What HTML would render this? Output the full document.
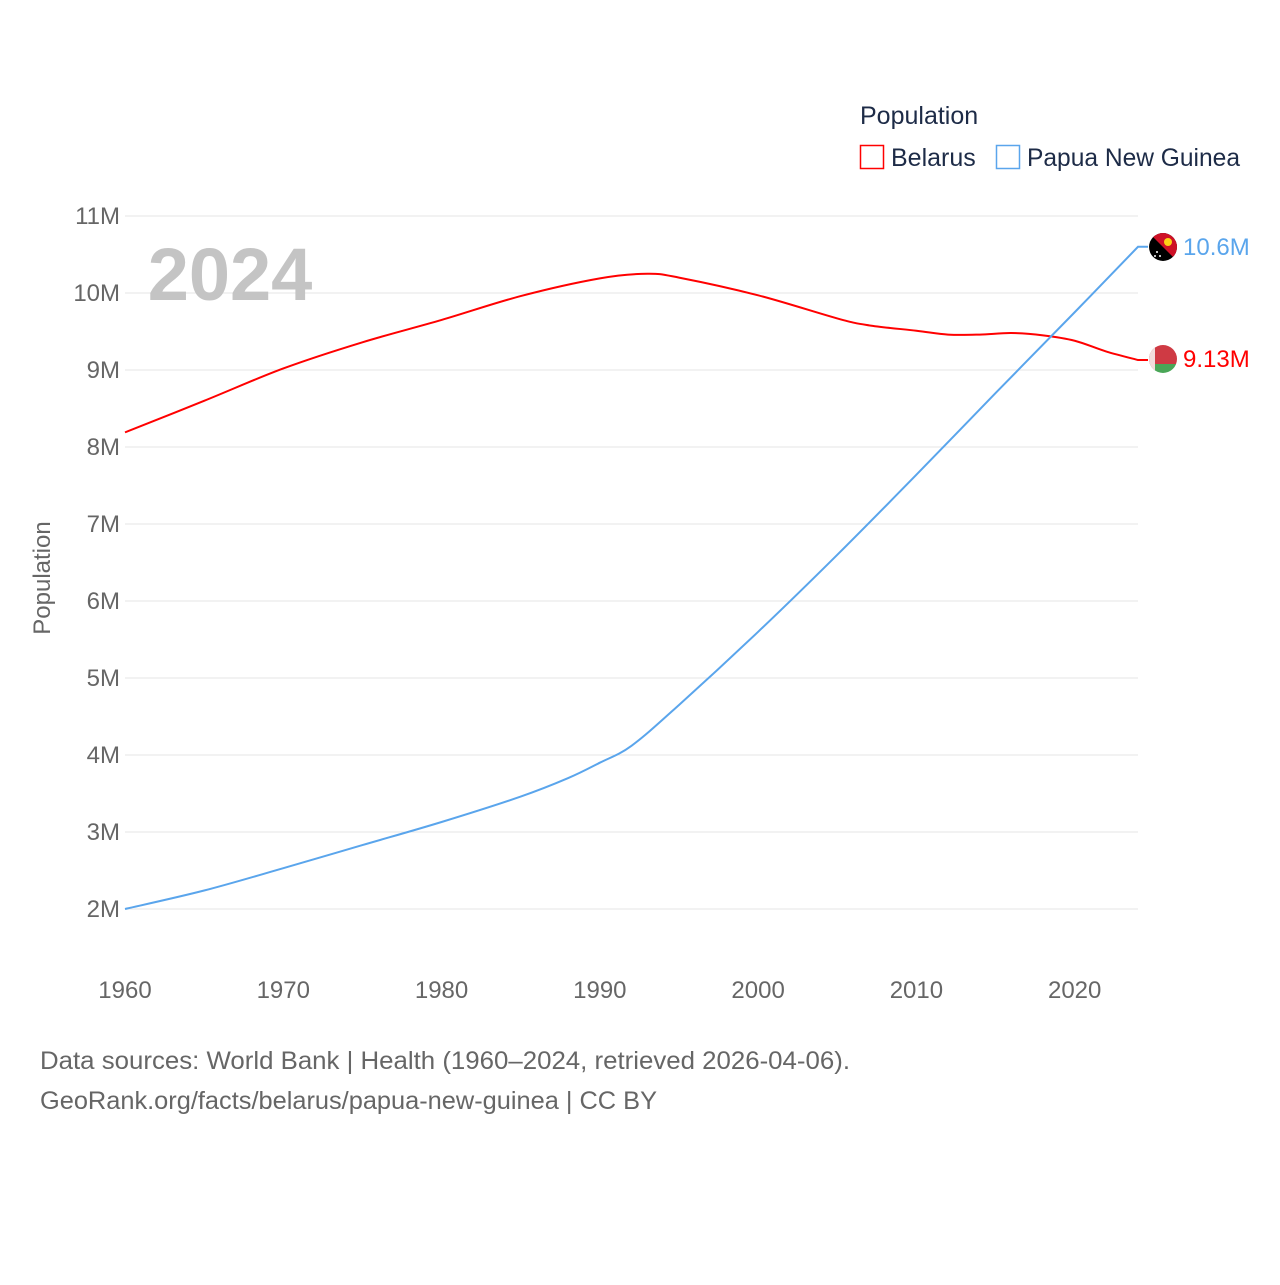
<!DOCTYPE html>
<html><head><meta charset="utf-8">
<style>
html,body{margin:0;padding:0;background:#fff;}
body{width:1280px;height:1280px;overflow:hidden;font-family:"Liberation Sans",sans-serif;}
svg text{font-family:"Liberation Sans",sans-serif;}
</style></head>
<body>
<svg id="chart" width="1280" height="1280" viewBox="0 0 1280 1280">
  <g id="grid"></g>
  <g id="yticks"></g>
  <g id="xticks"></g>
  <text x="230" y="300" font-size="74" font-weight="bold" fill="#c4c4c4" text-anchor="middle">2024</text>
  <text transform="translate(50,578) rotate(-90)" font-size="24" fill="#666" text-anchor="middle">Population</text>
  <g id="series"></g>
  <g>
    <text x="860" y="124" font-size="25" fill="#1d2b47">Population</text>
    <g>
      <rect x="860.5" y="145.5" width="23" height="23" fill="none" stroke="#ff0000" stroke-width="1.5"/>
      <text x="891" y="166" font-size="25" fill="#1d2b47">Belarus</text>
    </g>
    <g>
      <rect x="996.5" y="145.5" width="23" height="23" fill="none" stroke="#5aa5ec" stroke-width="1.5"/>
      <text x="1027" y="166" font-size="25" fill="#1d2b47" textLength="213" lengthAdjust="spacingAndGlyphs">Papua New Guinea</text>
    </g>
  </g>
  <defs>
    <clipPath id="c1"><circle cx="1163" cy="247" r="14"/></clipPath>
    <clipPath id="c2"><circle cx="1163" cy="359" r="14"/></clipPath>
  </defs>
  <g clip-path="url(#c1)">
    <rect x="1149" y="233" width="28" height="28" fill="#000"/>
    <polygon points="1149,233 1177,233 1177,261" fill="#ce1126"/>
    <circle cx="1168" cy="242" r="4" fill="#fcd116"/>
    <circle cx="1157" cy="252" r="1" fill="#fff"/><circle cx="1160" cy="256" r="1" fill="#fff"/><circle cx="1155" cy="256" r="1" fill="#fff"/>
  </g>
  <g clip-path="url(#c2)">
    <rect x="1149" y="345" width="28" height="19" fill="#cf3a44"/>
    <rect x="1149" y="364" width="28" height="9" fill="#4aa657"/>
    <rect x="1149" y="345" width="6" height="28" fill="#f2dcdc"/>
  </g>
  <text x="1183" y="255" font-size="24" fill="#5aa5ec">10.6M</text>
  <text x="1183" y="367" font-size="24" fill="#ff0000">9.13M</text>
  <text x="40" y="1069" font-size="25" fill="#666" textLength="810" lengthAdjust="spacingAndGlyphs">Data sources: World Bank | Health (1960–2024, retrieved 2026-04-06).</text>
  <text x="40" y="1109" font-size="25" fill="#666" textLength="617" lengthAdjust="spacingAndGlyphs">GeoRank.org/facts/belarus/papua-new-guinea | CC BY</text>
</svg>
<script>
const years = [1960,1965,1970,1975,1980,1985,1990,1993,1995,2000,2005,2007,2010,2012,2014,2016,2018,2020,2022,2024];
const belarus = [8.19,8.6,9.02,9.36,9.65,9.96,10.19,10.25,10.2,9.97,9.67,9.58,9.51,9.46,9.46,9.48,9.45,9.38,9.24,9.13];
const pngYears = [1960,1965,1970,1975,1980,1985,1988,1990,1992,1995,2000,2005,2010,2015,2020,2024];
const png = [2.0,2.24,2.53,2.83,3.13,3.46,3.7,3.9,4.12,4.65,5.6,6.6,7.64,8.7,9.75,10.6];
const yTicks = [2,3,4,5,6,7,8,9,10,11];
const xTicks = [1960,1970,1980,1990,2000,2010,2020];
const NS='http://www.w3.org/2000/svg';
const x = v => 125 + (v-1960)*(1138-125)/64;
const y = v => 909 - (v-2)*77;
function mk(tag, attrs, parent){const e=document.createElementNS(NS,tag);for(const k in attrs)e.setAttribute(k,attrs[k]);document.getElementById(parent).appendChild(e);return e;}
yTicks.forEach(t=>{
  const l=mk('line',{x1:125,x2:1138,y1:y(t),y2:y(t),stroke:'#e6e6e6','stroke-width':1},'grid');
  
  
  const tx=mk('text',{x:120,y:y(t)+8,'font-size':24,fill:'#666','text-anchor':'end'},'yticks');
  tx.textContent=t+'M';
  
  
});
xTicks.forEach(t=>{
  const tx=mk('text',{x:x(t),y:998,'font-size':24,fill:'#666','text-anchor':'middle'},'xticks');
  tx.textContent=t;
  
  
});
function path(xs, vs){
  const p=xs.map((v,i)=>[x(v),y(vs[i])]);
  let d='M'+p[0][0]+','+p[0][1];
  for(let i=0;i<p.length-1;i++){
    const p0=p[i-1]||p[i],p1=p[i],p2=p[i+1],p3=p[i+2]||p2;
    const c1x=p1[0]+(p2[0]-p0[0])/6,c1y=p1[1]+(p2[1]-p0[1])/6;
    const c2x=p2[0]-(p3[0]-p1[0])/6,c2y=p2[1]-(p3[1]-p1[1])/6;
    d+=` C${c1x},${c1y} ${c2x},${c2y} ${p2[0]},${p2[1]}`;
  }
  return d+' h10';
}
const a=mk('path',{d:path(years,belarus),fill:'none',stroke:'#ff0000','stroke-width':2},'series');


const b=mk('path',{d:path(pngYears,png),fill:'none',stroke:'#5aa5ec','stroke-width':2},'series');


</script>
</body></html>
